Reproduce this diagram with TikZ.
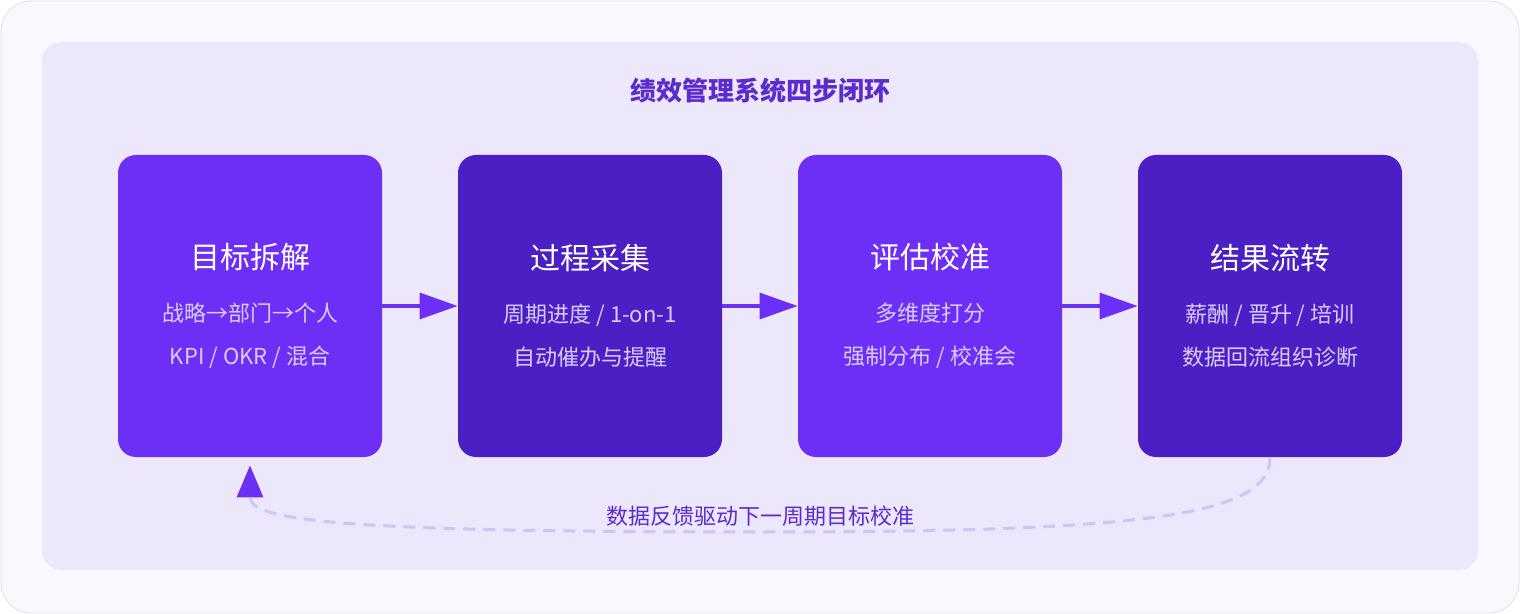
\documentclass[tikz,border=0pt]{standalone}
\usepackage{fontspec}
\setmainfont{Noto Sans CJK SC}
\usetikzlibrary{arrows.meta}
\definecolor{pvio}{RGB}{109,46,245}
\definecolor{pdeep}{RGB}{76,31,196}
\definecolor{plav}{RGB}{237,231,251}
\definecolor{pbg}{RGB}{250,248,255}
\definecolor{psub}{RGB}{217,204,255}
\definecolor{pdash}{RGB}{207,195,247}
\definecolor{plabel}{RGB}{91,43,208}
\tikzset{
  stage/.style={rounded corners=9pt, minimum width=132pt, minimum height=151pt,
    align=center, text=psub, font=\fontsize{11pt}{21.5pt}\selectfont, inner sep=0pt},
  link/.style={pvio, line width=1.6pt, -{Triangle[length=19pt,width=13pt]}},
}
\newcommand{\stagetitle}[1]{{\color{white}\fontsize{15pt}{18pt}\selectfont #1}\\[5pt]}
\begin{document}
\begin{tikzpicture}[x=0.5pt,y=-0.5pt]
    \useasboundingbox (0,0) rectangle (1520,614);
    \draw[fill=pbg, draw=black!12, rounded corners=15pt] (1,1) rectangle (1519,613);
    \fill[plav, rounded corners=10pt] (42,42) rectangle (1478,570);

    \node[text=plabel, font=\bfseries\fontsize{13pt}{16pt}\selectfont] (title) at (760,91) {绩效管理系统四步闭环};

    \node[stage, fill=pvio] (goal) at (250,306) {\stagetitle{目标拆解}战略→部门→个人\\KPI / OKR / 混合};
    \node[stage, fill=pdeep] (track) at (590,306) {\stagetitle{过程采集}周期进度 / 1-on-1\\自动催办与提醒};
    \node[stage, fill=pvio] (eval) at (930,306) {\stagetitle{评估校准}多维度打分\\强制分布 / 校准会};
    \node[stage, fill=pdeep] (result) at (1270,306) {\stagetitle{结果流转}薪酬 / 晋升 / 培训\\数据回流组织诊断};

    \draw[link] (goal) -- (track);
    \draw[link] (track) -- (eval);
    \draw[link] (eval) -- (result);

    % feedback loop
    \draw[pdash, line width=1.5pt, dash pattern=on 6pt off 4pt, shorten >=4pt,
        -{Triangle[length=16pt,width=13pt,color=pvio,fill=pvio,sep=0pt]}]
        (result.south) .. controls (1270,515) and (1150,532) .. (760,532)
        .. controls (330,532) and (250,520) .. (goal.south);
    \node[text=plabel, font=\fontsize{11pt}{14pt}\selectfont] (loop) at (760,516) {数据反馈驱动下一周期目标校准};
\end{tikzpicture}
\end{document}
